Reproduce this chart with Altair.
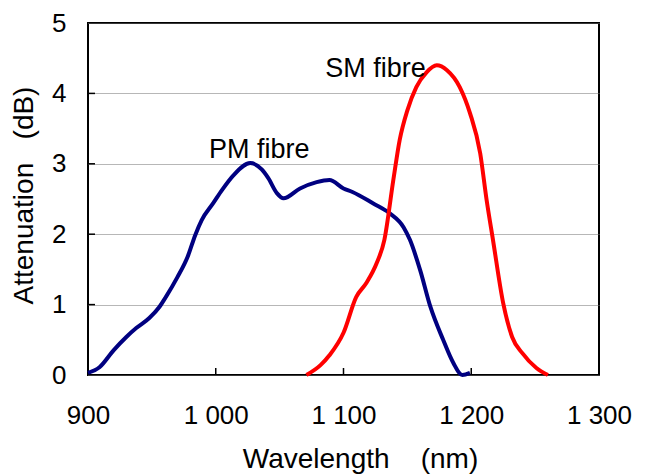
import json
import altair as alt
import pandas as pd

# PM fibre curve (wavelength nm, attenuation dB)
pm_wl = [900, 909, 920, 930, 938, 948, 956, 961, 970, 978, 984, 989, 998, 1005, 1014,
         1027, 1036, 1041, 1048, 1053, 1066, 1079, 1089, 1100, 1107, 1123, 1136, 1147,
         1152, 1160, 1168, 1178, 1186, 1193, 1199]
pm_att = [0.03, 0.11, 0.35, 0.54, 0.67, 0.81, 0.97, 1.11, 1.39, 1.68, 1.99, 2.20, 2.44, 2.63, 2.84,
          3.01, 2.92, 2.80, 2.58, 2.51, 2.65, 2.74, 2.77, 2.65, 2.60, 2.44, 2.30, 2.10,
          1.92, 1.49, 0.97, 0.50, 0.17, 0.00, 0.03]

# SM fibre curve
sm_wl = [1071, 1082, 1089, 1100, 1110, 1118, 1126, 1132, 1139, 1144, 1150, 1157, 1165,
         1173, 1181, 1191, 1199, 1207, 1212, 1217, 1225, 1232, 1240, 1251, 1260]
sm_att = [0.00, 0.14, 0.28, 0.60, 1.11, 1.31, 1.59, 1.92, 2.77, 3.34, 3.76, 4.09, 4.30,
          4.40, 4.33, 4.09, 3.72, 3.15, 2.49, 1.92, 1.02, 0.54, 0.31, 0.10, 0.00]

# axis ticks
x_ticks = [900, 1000, 1100, 1200, 1300]
x_tick_labels = ["900", "1 000", "1 100", "1 200", "1 300"]
y_ticks = [0, 1, 2, 3, 4, 5]
x_inner_ticks = [1000, 1100, 1200]
y_inner_ticks = [1, 2, 3, 4]

# annotations
label_text = ["PM fibre", "SM fibre"]
label_wl = [1034, 1125]
label_att = [3.08, 4.23]

FONT = "Liberation Sans"

pm_df = pd.DataFrame({"wl": pm_wl, "att": pm_att})
sm_df = pd.DataFrame({"wl": sm_wl, "att": sm_att})
lab_df = pd.DataFrame({"text": label_text, "wl": label_wl, "att": label_att})
xt_df = pd.DataFrame({"wl": x_inner_ticks})
yt_df = pd.DataFrame({"att": y_inner_ticks})

x_scale = alt.Scale(domain=[900, 1300], nice=False, zero=False)
y_scale = alt.Scale(domain=[0, 5], nice=False)

label_expr = f"{json.dumps(x_tick_labels)}[indexof({json.dumps(x_ticks)}, datum.value)]"

x_axis = alt.Axis(
    values=x_ticks, labelExpr=label_expr, grid=False, ticks=False, tickSize=0,
    domain=False, labelFont=FONT, labelFontSize=26, labelColor="black",
    labelBaseline="alphabetic", labelPadding=48, labelFlush=False,
    title="Wavelength\u00a0\u00a0\u00a0\u00a0(nm)", titleFont=FONT, titleFontSize=28,
    titleFontWeight="normal", titleColor="black", titleBaseline="alphabetic",
    titleAlign="center", titleX=272, titleY=92,
)
y_axis = alt.Axis(
    values=y_ticks, format="d", grid=True, gridColor="#6e6e6e", gridDash=[1, 1], gridWidth=1.2,
    ticks=False, tickSize=0, domain=False, labelFont=FONT, labelFontSize=26,
    labelColor="black", labelPadding=22, labelFlush=False,
    title="Attenuation\u00a0\u00a0\u00a0(dB)", titleFont=FONT, titleFontSize=28,
    titleFontWeight="normal", titleColor="black", titleAngle=270,
    titleBaseline="alphabetic", titleAlign="center", titleX=-56, titleY=172,
)

pm_line = alt.Chart(pm_df).mark_line(color="#000080", strokeWidth=4, interpolate="monotone").encode(
    x=alt.X("wl:Q", scale=x_scale, axis=x_axis),
    y=alt.Y("att:Q", scale=y_scale, axis=y_axis),
)
sm_line = alt.Chart(sm_df).mark_line(color="#ff0000", strokeWidth=4, interpolate="monotone").encode(
    x=alt.X("wl:Q", scale=x_scale),
    y=alt.Y("att:Q", scale=y_scale),
)
labels = alt.Chart(lab_df).mark_text(
    font=FONT, fontSize=27, color="black", align="center", baseline="alphabetic"
).encode(
    x=alt.X("wl:Q", scale=x_scale),
    y=alt.Y("att:Q", scale=y_scale),
    text="text:N",
)
xticks = alt.Chart(xt_df).mark_rule(color="black", strokeWidth=1.5).encode(
    x=alt.X("wl:Q", scale=x_scale),
    y=alt.value(345),
    y2=alt.value(352),
)
yticks = alt.Chart(yt_df).mark_rule(color="black", strokeWidth=1.5).encode(
    y=alt.Y("att:Q", scale=y_scale),
    x=alt.value(0),
    x2=alt.value(7),
)

chart = alt.layer(pm_line, xticks, yticks, sm_line, labels).properties(
    width=511, height=352,
    autosize=alt.AutoSizeParams(type="none"),
    padding={"left": 80, "top": 15, "right": 53, "bottom": 99},
    background="white",
).configure_view(stroke="black", strokeWidth=2)

chart.save("out.html", embed_options={"renderer": "svg", "actions": False})
